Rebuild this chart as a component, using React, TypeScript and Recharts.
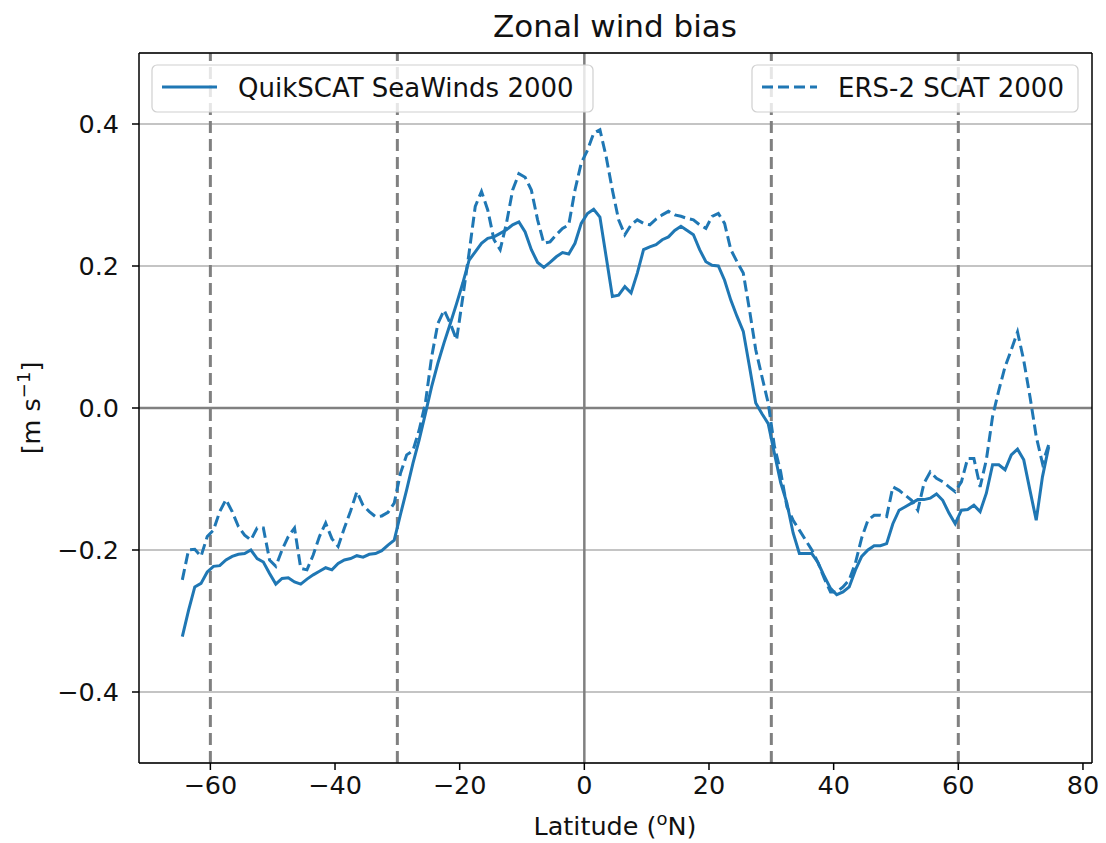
import { LineChart, Line, XAxis, YAxis, CartesianGrid, ReferenceLine } from 'recharts';

// latitude bins (degrees N)
const latitudes = [
  -64.5, -63.5, -62.5, -61.5, -60.5, -59.5, -58.5, -57.5, -56.5, -55.5,
  -54.5, -53.5, -52.5, -51.5, -50.5, -49.5, -48.5, -47.5, -46.5, -45.5,
  -44.5, -43.5, -42.5, -41.5, -40.5, -39.5, -38.5, -37.5, -36.5, -35.5,
  -34.5, -33.5, -32.5, -31.5, -30.5, -29.5, -28.5, -27.5, -26.5, -25.5,
  -24.5, -23.5, -22.5, -21.5, -20.5, -19.5, -18.5, -17.5, -16.5, -15.5,
  -14.5, -13.5, -12.5, -11.5, -10.5, -9.5, -8.5, -7.5, -6.5, -5.5,
  -4.5, -3.5, -2.5, -1.5, -0.5, 0.5, 1.5, 2.5, 3.5, 4.5,
  5.5, 6.5, 7.5, 8.5, 9.5, 10.5, 11.5, 12.5, 13.5, 14.5,
  15.5, 16.5, 17.5, 18.5, 19.5, 20.5, 21.5, 22.5, 23.5, 24.5,
  25.5, 26.5, 27.5, 28.5, 29.5, 30.5, 31.5, 32.5, 33.5, 34.5,
  35.5, 36.5, 37.5, 38.5, 39.5, 40.5, 41.5, 42.5, 43.5, 44.5,
  45.5, 46.5, 47.5, 48.5, 49.5, 50.5, 51.5, 52.5, 53.5, 54.5,
  55.5, 56.5, 57.5, 58.5, 59.5, 60.5, 61.5, 62.5, 63.5, 64.5,
  65.5, 66.5, 67.5, 68.5, 69.5, 70.5, 71.5, 72.5, 73.5, 74.5,
];

// QuikSCAT SeaWinds 2000 bias [m/s]
const quikscat = [
  -0.322, -0.285, -0.252, -0.247, -0.231, -0.223, -0.222, -0.214, -0.209, -0.206,
  -0.205, -0.2, -0.212, -0.217, -0.233, -0.248, -0.24, -0.239, -0.245, -0.248,
  -0.241, -0.235, -0.23, -0.225, -0.228, -0.219, -0.214, -0.212, -0.208, -0.21,
  -0.206, -0.205, -0.201, -0.193, -0.186, -0.15, -0.115, -0.078, -0.045, -0.008,
  0.03, 0.063, 0.092, 0.119, 0.147, 0.176, 0.208, 0.22, 0.232, 0.239,
  0.241, 0.246, 0.251, 0.258, 0.262, 0.248, 0.223, 0.205, 0.198, 0.205,
  0.213, 0.219, 0.217, 0.232, 0.26, 0.274, 0.28, 0.269, 0.213, 0.157,
  0.159, 0.171, 0.162, 0.19, 0.223, 0.227, 0.23, 0.237, 0.241, 0.25,
  0.256, 0.25, 0.244, 0.223, 0.206, 0.201, 0.2, 0.18, 0.152, 0.129,
  0.108, 0.058, 0.007, -0.008, -0.022, -0.064, -0.105, -0.134, -0.176, -0.205,
  -0.205, -0.205, -0.218, -0.237, -0.254, -0.263, -0.259, -0.252, -0.228, -0.209,
  -0.2, -0.194, -0.194, -0.191, -0.163, -0.144, -0.139, -0.134, -0.129, -0.129,
  -0.127, -0.121, -0.13, -0.148, -0.163, -0.144, -0.143, -0.137, -0.146, -0.12,
  -0.08, -0.08, -0.087, -0.066, -0.058, -0.073, -0.116, -0.158, -0.097, -0.055,
];

// ERS-2 SCAT 2000 bias [m/s]
const ers2 = [
  -0.242, -0.2, -0.199, -0.209, -0.181, -0.172, -0.146, -0.129, -0.146, -0.167,
  -0.179, -0.186, -0.169, -0.169, -0.214, -0.223, -0.2, -0.181, -0.169, -0.226,
  -0.228, -0.207, -0.181, -0.162, -0.184, -0.195, -0.169, -0.145, -0.118, -0.137,
  -0.146, -0.153, -0.152, -0.147, -0.134, -0.092, -0.066, -0.06, -0.031, 0.007,
  0.072, 0.119, 0.138, 0.119, 0.096, 0.156, 0.218, 0.284, 0.305, 0.279,
  0.237, 0.223, 0.26, 0.307, 0.33, 0.325, 0.307, 0.265, 0.232, 0.234,
  0.244, 0.253, 0.258, 0.307, 0.345, 0.363, 0.387, 0.392, 0.354, 0.307,
  0.265, 0.244, 0.258, 0.265, 0.26, 0.258, 0.266, 0.272, 0.277, 0.272,
  0.27, 0.267, 0.265, 0.258, 0.253, 0.27, 0.274, 0.26, 0.223, 0.206,
  0.19, 0.138, 0.082, 0.044, 0.007, -0.054, -0.09, -0.139, -0.158, -0.172,
  -0.186, -0.2, -0.218, -0.24, -0.259, -0.259, -0.252, -0.242, -0.218, -0.183,
  -0.158, -0.151, -0.151, -0.153, -0.111, -0.116, -0.123, -0.13, -0.144, -0.106,
  -0.09, -0.099, -0.104, -0.111, -0.118, -0.104, -0.071, -0.071, -0.111, -0.073,
  -0.012, 0.025, 0.058, 0.082, 0.107, 0.067, 0.016, -0.04, -0.078, -0.052,
];

const seriesNames = ['QuikSCAT SeaWinds 2000', 'ERS-2 SCAT 2000'];
const xTicks = [-60, -40, -20, 0, 20, 40, 60, 80];
const yTicks = [-0.4, -0.2, 0, 0.2, 0.4];
const boundaryLats = [-60, -30, 30, 60];
const xDomain: [number, number] = [-71.45, 81.45];
const yDomain: [number, number] = [-0.5, 0.5];

const data = latitudes.map((lat, i) => ({ lat, qs: quikscat[i], ers: ers2[i] }));

const FONT = 'DejaVu Sans, Verdana, sans-serif';
const BLUE = '#1f77b4';
const DASH = '11 5';
const tickStyle = { fill: '#111', fontSize: 25.5, fontFamily: FONT };

const fmtY = (v: number) => (v < 0 ? '\u2212' : '') + Math.abs(v).toFixed(1);
const fmtX = (v: number) => (v < 0 ? '\u2212' : '') + Math.abs(v);

function LegendBox({ x, w, name, dashed }: { x: number; w: number; name: string; dashed: boolean }) {
  return (
    <g>
      <rect x={x} y={65} width={w} height={47} rx={5} fill="rgba(255,255,255,0.8)" stroke="#d0d0d0" strokeWidth={1.2} />
      <line x1={x + 10} x2={x + 65} y1={87} y2={87} stroke={BLUE} strokeWidth={3} strokeDasharray={dashed ? DASH : undefined} />
      <text x={x + 86} y={97} fontSize={26} fontFamily={FONT} fill="#111">{name}</text>
    </g>
  );
}

export default function App() {
  return (
    <div style={{ position: 'absolute', left: 0, top: 0, width: 1106, height: 843, background: '#fff' }}>
      <LineChart width={1106} height={843} data={data} margin={{ top: 53, right: 14, bottom: 0, left: 0 }}>
        <CartesianGrid vertical={false} stroke="#b0b0b0" strokeWidth={1.3} />
        <XAxis
          type="number"
          dataKey="lat"
          domain={xDomain}
          ticks={xTicks}
          interval={0}
          allowDataOverflow
          height={80}
          tickFormatter={fmtX}
          tick={tickStyle}
          tickSize={7}
          tickMargin={6}
          tickLine={{ stroke: '#000', strokeWidth: 1.5 }}
          axisLine={{ stroke: '#000', strokeWidth: 1.5 }}
        />
        <YAxis
          type="number"
          domain={yDomain}
          ticks={yTicks}
          interval={0}
          allowDataOverflow
          width={139}
          tickFormatter={fmtY}
          tick={tickStyle}
          tickSize={7}
          tickMargin={13}
          tickLine={{ stroke: '#000', strokeWidth: 1.5 }}
          axisLine={{ stroke: '#000', strokeWidth: 1.5 }}
        />
        <ReferenceLine y={0} stroke="#808080" strokeWidth={2.5} />
        <ReferenceLine x={0} stroke="#808080" strokeWidth={2.5} />
        {boundaryLats.map((lat) => (
          <ReferenceLine key={lat} x={lat} stroke="#808080" strokeWidth={3} strokeDasharray="12 6" />
        ))}
        <ReferenceLine y={yDomain[1]} stroke="#000" strokeWidth={1.5} />
        <ReferenceLine x={xDomain[1]} stroke="#000" strokeWidth={1.5} />
        <Line type="linear" dataKey="qs" name={seriesNames[0]} stroke={BLUE} strokeWidth={3} dot={false} isAnimationActive={false} />
        <Line type="linear" dataKey="ers" name={seriesNames[1]} stroke={BLUE} strokeWidth={3} strokeDasharray={DASH} dot={false} isAnimationActive={false} />
      </LineChart>
      <svg width={1106} height={843} style={{ position: 'absolute', left: 0, top: 0, pointerEvents: 'none' }}>
        <text x={615} y={37} textAnchor="middle" fontSize={31} fontFamily={FONT} fill="#111">Zonal wind bias</text>
        <text x={615} y={835} textAnchor="middle" fontSize={25.5} fontFamily={FONT} fill="#111">
          Latitude (<tspan fontSize={18} dy={-10}>o</tspan><tspan dy={10}>N)</tspan>
        </text>
        <text transform="translate(40,408) rotate(-90)" textAnchor="middle" fontSize={25.5} fontFamily={FONT} fill="#111">
          [m s<tspan fontSize={18} dy={-10}>{'\u22121'}</tspan><tspan dy={10}>]</tspan>
        </text>
        <LegendBox x={152} w={441} name={seriesNames[0]} dashed={false} />
        <LegendBox x={752} w={326} name={seriesNames[1]} dashed />
      </svg>
    </div>
  );
}
